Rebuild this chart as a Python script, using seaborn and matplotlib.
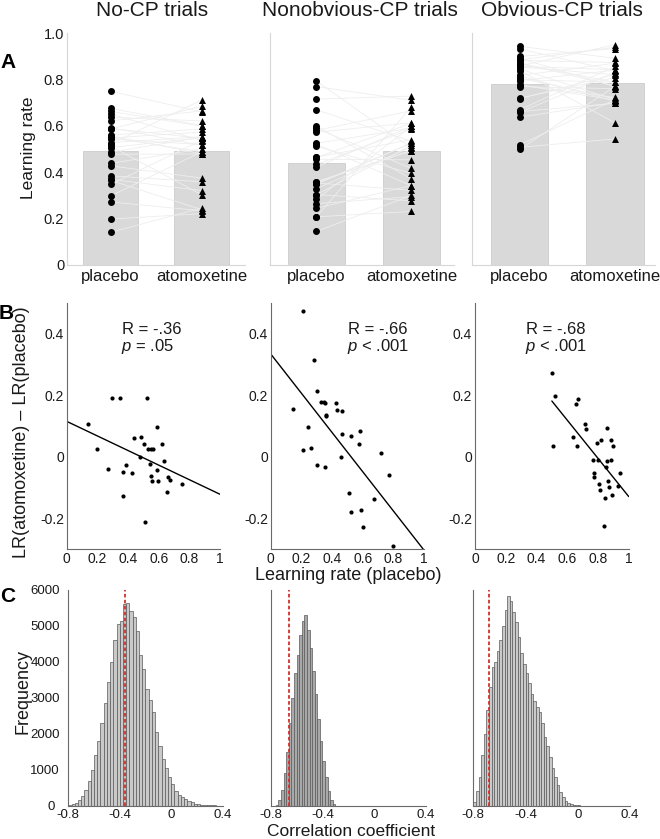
import numpy as np
import pandas as pd
import matplotlib
matplotlib.use("Agg")
import matplotlib.pyplot as plt
import matplotlib.transforms as mtransforms
import seaborn as sns

# ---------------- data ----------------
conditions = ["No-CP trials", "Nonobvious-CP trials", "Obvious-CP trials"]
drugs = ["placebo", "atomoxetine"]

lr_placebo_nocp = [0.141, 0.198, 0.272, 0.298, 0.348, 0.370, 0.365, 0.385, 0.428, 0.439,
                   0.478, 0.487, 0.507, 0.522, 0.513, 0.528, 0.543, 0.548, 0.561, 0.550,
                   0.557, 0.587, 0.589, 0.593, 0.622, 0.637, 0.652, 0.663, 0.676, 0.750]
lr_atomox_nocp = [0.246, 0.222, 0.234, 0.489, 0.538, 0.321, 0.239, 0.359, 0.375, 0.501,
                  0.479, 0.551, 0.550, 0.712, 0.303, 0.554, 0.520, 0.574, 0.587, 0.489,
                  0.480, 0.685, 0.547, 0.516, 0.665, 0.622, 0.537, 0.599, 0.602, 0.661]

lr_placebo_nonobv = [0.208, 0.284, 0.145, 0.304, 0.330, 0.349, 0.351, 0.360, 0.358, 0.245,
                     0.265, 0.208, 0.304, 0.354, 0.423, 0.434, 0.464, 0.466, 0.456, 0.525,
                     0.581, 0.573, 0.512, 0.521, 0.590, 0.599, 0.670, 0.716, 0.770, 0.794]
lr_atomox_nonobv = [0.682, 0.598, 0.300, 0.517, 0.509, 0.527, 0.525, 0.492, 0.494, 0.343,
                    0.295, 0.231, 0.277, 0.322, 0.598, 0.587, 0.612, 0.541, 0.454, 0.591,
                    0.666, 0.614, 0.395, 0.342, 0.417, 0.372, 0.534, 0.729, 0.711, 0.505]

lr_placebo_obv = [0.499, 0.518, 0.508, 0.659, 0.670, 0.638, 0.662, 0.718, 0.720, 0.770,
                  0.777, 0.777, 0.796, 0.800, 0.807, 0.816, 0.818, 0.846, 0.839, 0.855,
                  0.857, 0.859, 0.868, 0.872, 0.883, 0.885, 0.892, 0.900, 0.933, 0.944]
lr_atomox_obv = [0.771, 0.714, 0.544, 0.830, 0.857, 0.701, 0.698, 0.823, 0.809, 0.761,
                 0.723, 0.712, 0.841, 0.789, 0.719, 0.707, 0.871, 0.714, 0.613, 0.821,
                 0.843, 0.951, 0.789, 0.773, 0.874, 0.940, 0.769, 0.934, 0.838, 0.892]

placebo_sets = [lr_placebo_nocp, lr_placebo_nonobv, lr_placebo_obv]
atomox_sets = [lr_atomox_nocp, lr_atomox_nonobv, lr_atomox_obv]

r_labels = ["R = -.36", "R = -.66", "R = -.68"]
p_labels = [r"$p$ = .05", r"$p$ < .001", r"$p$ < .001"]
observed_r = [-0.36, -0.66, -0.68]

# bootstrap histograms: first bin edge, bin width, counts
hist_nocp_start, hist_nocp_width = -0.80, 0.025
hist_nocp_counts = [20, 40, 80, 160, 280, 450, 680, 1000, 1400, 1800, 2300, 2850, 3450, 4000,
                    4600, 5050, 5150, 5600, 5650, 5420, 5250, 4850, 4200, 3800, 3250, 2950,
                    2600, 2050, 1650, 1300, 1050, 800, 600, 420, 300, 250, 190, 130, 90, 60,
                    40, 30, 20, 15, 10, 8, 5, 3]
hist_nonobv_start, hist_nonobv_width = -0.76, 0.02
hist_nonobv_counts = [30, 150, 450, 900, 1500, 2300, 3000, 3700, 4200, 4750, 5150, 5300,
                      4900, 4400, 3750, 3100, 2400, 1800, 1250, 800, 400, 150, 40]
hist_obv_start, hist_obv_width = -0.80, 0.02
hist_obv_counts = [110, 400, 800, 1400, 2000, 2650, 3300, 3850, 4000, 4300, 4600, 5000, 5450,
                   5830, 5700, 5400, 5100, 4700, 4250, 3950, 3700, 3400, 3100, 2900, 2750,
                   2600, 2300, 1900, 1650, 1350, 1050, 800, 580, 380, 230, 140, 85, 55, 30,
                   18, 8]
hist_sets = [(hist_nocp_start, hist_nocp_width, hist_nocp_counts),
             (hist_nonobv_start, hist_nonobv_width, hist_nonobv_counts),
             (hist_obv_start, hist_obv_width, hist_obv_counts)]
hist_face = ["#c9c9c9", "#a9a9a9", "#c9c9c9"]

# ---------------- style ----------------
sns.set_theme(style="white")
plt.rcParams["font.family"] = ["Liberation Sans", "DejaVu Sans"]
plt.rcParams["mathtext.fontset"] = "custom"
plt.rcParams["mathtext.it"] = "Liberation Sans:italic"
plt.rcParams["mathtext.rm"] = "Liberation Sans"
plt.rcParams["axes.unicode_minus"] = False

W, H = 660, 839
fig = plt.figure(figsize=(W / 100, H / 100), dpi=100)


def rect(left, right, top, bottom):
    return [left / W, 1 - bottom / H, (right - left) / W, (bottom - top) / H]


# Row A geometry
rowA = [(67, 245, (-0.48, 1.476)), (270, 454, (-0.49, 1.45)), (472, 655, (-0.5, 1.42))]
rowB = [(66.7, 220), (270.7, 424.3), (475, 628.7)]
rowC = [(68.3, 222.7), (270.7, 426), (473.3, 630)]

spine_light = "#d6d6d6"
spine_dark = "#6a6a6a"
txt = "#1a1a1a"

# ---------------- Row A ----------------
for i in range(3):
    left, right, xl = rowA[i]
    ax = fig.add_axes(rect(left, right, 33.3, 265))
    plac, atom = placebo_sets[i], atomox_sets[i]
    n = len(plac)
    df = pd.DataFrame({"drug": ["placebo"] * n + ["atomoxetine"] * n,
                       "lr": plac + atom,
                       "subject": list(range(n)) * 2})
    sns.barplot(data=df, x="drug", y="lr", order=drugs, errorbar=None,
                color="#d9d9d9", saturation=1, width=0.6,
                edgecolor="#cdcdcd", linewidth=0.6, ax=ax, zorder=1)
    for p, a in zip(plac, atom):
        ax.plot([0, 1], [p, a], color="#eeeeee", lw=0.6, zorder=2)
    sns.stripplot(data=df[df.drug == "placebo"], x="drug", y="lr", order=drugs,
                  jitter=False, marker="o", color="black", size=5, linewidth=0,
                  ax=ax, zorder=3)
    sns.stripplot(data=df[df.drug == "atomoxetine"], x="drug", y="lr", order=drugs,
                  jitter=False, marker="^", color="black", size=5, linewidth=0,
                  ax=ax, zorder=3)
    ax.set_xlim(*xl)
    ax.set_ylim(0, 1.0)
    ax.set_xlabel("")
    ax.set_ylabel("")
    ax.set_yticks([0, 0.2, 0.4, 0.6, 0.8, 1.0])
    if i == 0:
        ax.set_yticklabels(["0", "0.2", "0.4", "0.6", "0.8", "1.0"])
    else:
        ax.set_yticklabels([])
    ax.set_xticks([0, 1])
    ax.set_xticklabels(drugs)
    ax.tick_params(axis="y", direction="in", length=3, color="#d0d0d0",
                   labelsize=10.5, pad=2, labelcolor=txt)
    ax.tick_params(axis="x", length=0, labelsize=12, pad=3, labelcolor=txt)
    sns.despine(ax=ax)
    for s in ["left", "bottom"]:
        ax.spines[s].set_color(spine_light)
        ax.spines[s].set_linewidth(0.8)

# ---------------- Row B ----------------
line_ranges = [(0.0, 1.0), (0.0, 1.0), (0.5, 1.0)]
r_pos = [(122, 329.5, 346), (348, 330, 346), (526, 330, 346)]
for i in range(3):
    left, right = rowB[i]
    ax = fig.add_axes(rect(left, right, 302.7, 549.3))
    plac = np.array(placebo_sets[i])
    diff = np.array(atomox_sets[i]) - plac
    df = pd.DataFrame({"placebo": plac, "diff": diff})
    sns.scatterplot(data=df, x="placebo", y="diff", color="black", s=9,
                    linewidth=0, ax=ax, zorder=3)
    slope, intercept = np.polyfit(plac, diff, 1)
    xs = np.array(line_ranges[i])
    ax.plot(xs, intercept + slope * xs, color="black", lw=1.0, zorder=2)
    ax.set_xlim(0, 1)
    ax.set_ylim(-0.3, 0.5)
    ax.set_xlabel("")
    ax.set_ylabel("")
    ax.set_xticks([0, 0.2, 0.4, 0.6, 0.8, 1.0])
    ax.set_xticklabels(["0", "0.2", "0.4", "0.6", "0.8", "1"])
    ax.set_yticks([-0.2, -0.1, 0, 0.1, 0.2, 0.3, 0.4])
    ax.set_yticklabels(["-0.2", "", "0", "", "0.2", "", "0.4"])
    ax.tick_params(axis="both", direction="in", length=3, color=spine_dark,
                   labelsize=10, labelcolor=txt)
    ax.tick_params(axis="y", pad=2)
    ax.tick_params(axis="x", pad=2)
    sns.despine(ax=ax)
    for s in ["left", "bottom"]:
        ax.spines[s].set_color(spine_dark)
        ax.spines[s].set_linewidth(0.8)
    xr, yr, yp = r_pos[i]
    fig.text(xr / W, 1 - yr / H, r_labels[i], fontsize=12, ha="left", va="center", color=txt)
    fig.text((xr - 1) / W, 1 - yp / H, p_labels[i], fontsize=12, ha="left", va="center", color=txt)

# ---------------- Row C ----------------
for i in range(3):
    left, right = rowC[i]
    ax = fig.add_axes(rect(left, right, 590, 805.7))
    start, width, counts = hist_sets[i]
    edges = start + width * np.arange(len(counts) + 1)
    hdf = pd.DataFrame({"r": edges[:-1] + width / 2, "count": counts})
    sns.histplot(data=hdf, x="r", weights="count", bins=[float(e) for e in edges],
                 stat="count", color=hist_face[i], edgecolor="#5a5a5a", linewidth=0.5,
                 alpha=1, ax=ax, zorder=1)
    ax.axvline(observed_r[i], color="#d2302c", lw=1.3, ls=(0, (2, 1.3)), zorder=3)
    ax.set_xlim(-0.8, 0.4)
    ax.set_ylim(0, 6000)
    ax.set_xlabel("")
    ax.set_ylabel("")
    ax.set_xticks([-0.8, -0.4, 0, 0.4])
    ax.set_xticklabels(["-0.8", "-0.4", "0", "0.4"])
    ax.set_yticks([0, 1000, 2000, 3000, 4000, 5000, 6000])
    if i == 0:
        ax.set_yticklabels(["0", "1000", "2000", "3000", "4000", "5000", "6000"])
    else:
        ax.set_yticklabels([])
    ax.tick_params(axis="both", direction="in", length=3, color=spine_dark,
                   labelsize=9.5, labelcolor=txt)
    ax.tick_params(axis="y", pad=6)
    ax.tick_params(axis="x", pad=2.5)
    sns.despine(ax=ax)
    for s in ["left", "bottom"]:
        ax.spines[s].set_color(spine_dark)
        ax.spines[s].set_linewidth(0.8)
    if i == 0:
        # the "0" label sits a little further left, clear of "-0.8"
        lab0 = ax.yaxis.get_major_ticks()[0].label1
        lab0.set_transform(lab0.get_transform() +
                           mtransforms.ScaledTranslation(-4 / 72, 0, fig.dpi_scale_trans))

# ---------------- labels ----------------
title_x = [152, 360, 562]
for i in range(3):
    fig.text(title_x[i] / W, 1 - 11 / H, conditions[i], fontsize=15, ha="center",
             va="center", color=txt)

fig.text(29 / W, 1 - 148 / H, "Learning rate", rotation=90, fontsize=12.5,
         ha="center", va="center", color=txt)
fig.text(21.5 / W, 1 - 432 / H, "LR(atomoxetine) \u2013 LR(placebo)", rotation=90,
         fontsize=13, ha="center", va="center", color=txt)
fig.text(348.5 / W, 1 - 576 / H, "Learning rate (placebo)", fontsize=13,
         ha="center", va="center", color=txt)
fig.text(23 / W, 1 - 691 / H, "Frequency", rotation=90, fontsize=13,
         ha="center", va="center", color=txt)
fig.text(351 / W, 1 - 835.5 / H, "Correlation coefficient", fontsize=12.5,
         ha="center", va="baseline", color=txt)

for letter, (x, y) in zip(["A", "B", "C"], [(8, 62), (6, 314), (8, 597)]):
    fig.text(x / W, 1 - y / H, letter, fontsize=15, fontweight="bold",
             ha="center", va="center", color="black")

fig.savefig("out.png", dpi=100)
